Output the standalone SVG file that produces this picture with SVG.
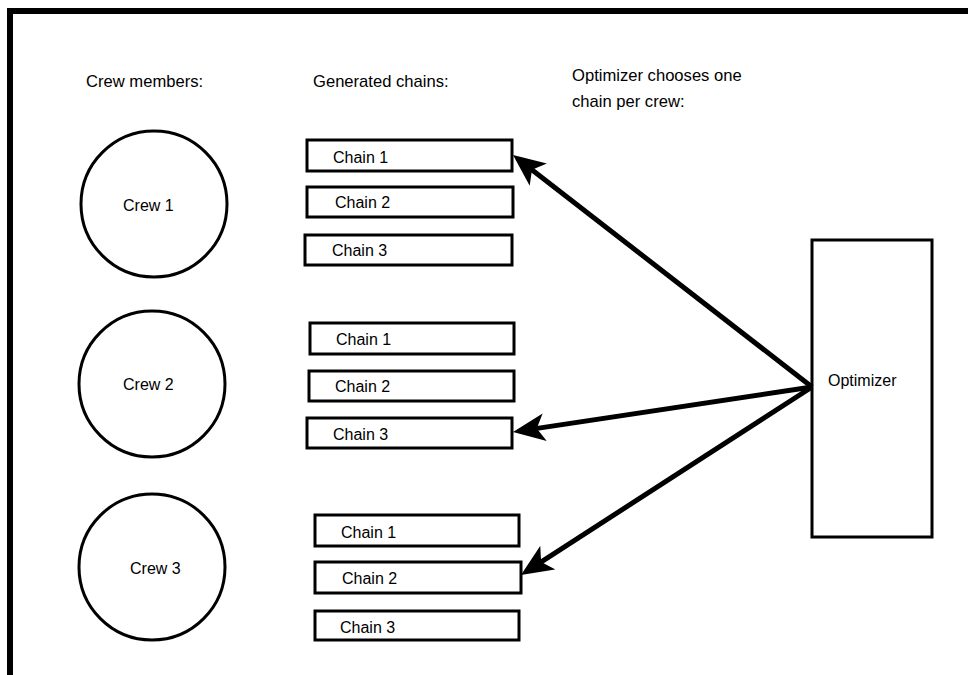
<svg xmlns="http://www.w3.org/2000/svg" width="968" height="675" viewBox="0 0 968 675">
<style>
text{font-family:"Liberation Sans",Arial,sans-serif;font-size:16px;fill:#000}
.hdr{font-size:16.6px}
.box{fill:#fff;stroke:#000;stroke-width:3}
.crew{fill:#fff;stroke:#000;stroke-width:3}
.arr{stroke:#000;stroke-width:5;fill:none;marker-end:url(#ah)}
</style>
<defs>
<marker id="ah" viewBox="0 0 32 28" markerWidth="32" markerHeight="28" refX="11" refY="14" orient="auto" markerUnits="userSpaceOnUse">
<path d="M0,0 L32,14 L0,28 L8,14 Z" fill="#000"/>
</marker>
</defs>
<rect width="968" height="675" fill="#fff"/>
<g id="frame">
<line x1="7" y1="11" x2="968" y2="11" stroke="#000" stroke-width="6"/>
<line x1="10" y1="8" x2="10" y2="675" stroke="#000" stroke-width="6"/>
</g>
<g id="headers">
<text class="hdr" x="86" y="87">Crew members:</text>
<text class="hdr" x="313" y="87">Generated chains:</text>
<text class="hdr" x="572" y="81">Optimizer chooses one</text>
<text class="hdr" x="572" y="107">chain per crew:</text>
</g>
<g id="crew1"><circle class="crew" cx="154" cy="204" r="73"/><text x="123" y="211">Crew 1</text></g>
<g id="crew2"><circle class="crew" cx="152" cy="384" r="73"/><text x="123" y="390">Crew 2</text></g>
<g id="crew3"><circle class="crew" cx="152" cy="567" r="73"/><text x="130" y="574">Crew 3</text></g>
<g id="c1chain1"><rect class="box" x="307" y="140" width="205" height="31"/><text x="333" y="163">Chain 1</text></g>
<g id="c1chain2"><rect class="box" x="307" y="187" width="206" height="30"/><text x="335" y="208">Chain 2</text></g>
<g id="c1chain3"><rect class="box" x="305" y="235" width="207" height="30"/><text x="332" y="256">Chain 3</text></g>
<g id="c2chain1"><rect class="box" x="310" y="323" width="204" height="31"/><text x="336" y="345">Chain 1</text></g>
<g id="c2chain2"><rect class="box" x="309" y="371" width="205" height="30"/><text x="335" y="392">Chain 2</text></g>
<g id="c2chain3"><rect class="box" x="307" y="418" width="205" height="30"/><text x="333" y="440">Chain 3</text></g>
<g id="c3chain1"><rect class="box" x="315" y="515" width="204" height="31"/><text x="341" y="538">Chain 1</text></g>
<g id="c3chain2"><rect class="box" x="315" y="562" width="206" height="31"/><text x="342" y="584">Chain 2</text></g>
<g id="c3chain3"><rect class="box" x="315" y="611" width="204" height="29"/><text x="340" y="633">Chain 3</text></g>
<g id="optimizer"><rect class="box" x="812" y="240" width="120" height="297"/><text x="828" y="386">Optimizer</text></g>
<g id="connectors">
<line class="arr" x1="812" y1="387" x2="529.6" y2="167.9"/>
<line class="arr" x1="812" y1="387" x2="533.8" y2="428.9"/>
<line class="arr" x1="812" y1="387" x2="538.6" y2="563.6"/>
</g>
</svg>
